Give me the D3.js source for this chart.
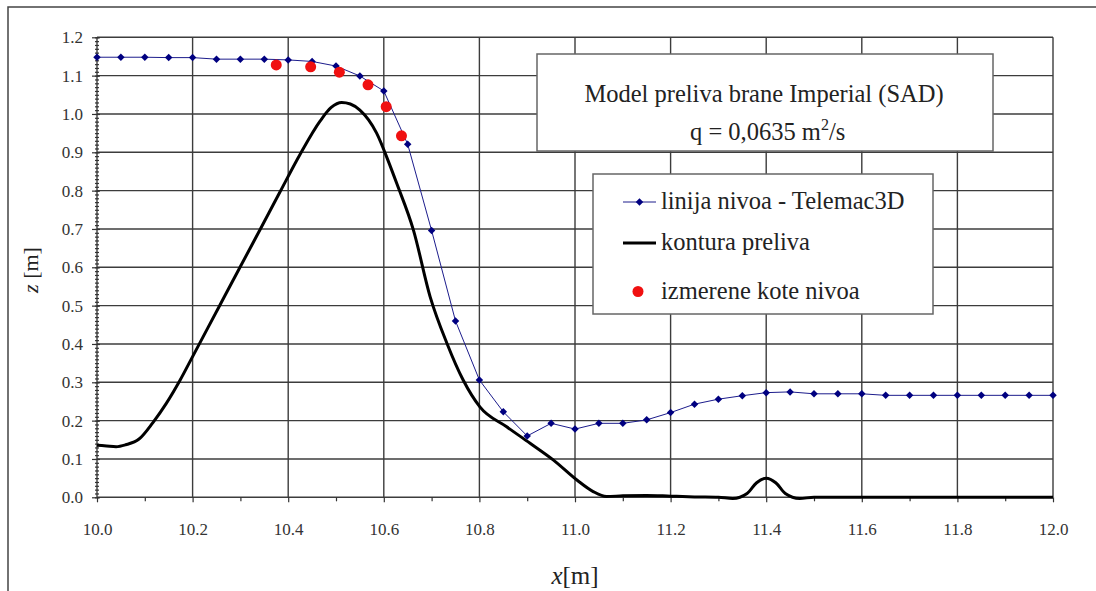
<!DOCTYPE html>
<html>
<head>
<meta charset="utf-8">
<script src="https://cdn.jsdelivr.net/npm/d3@7"></script>
<style>
  body { margin: 0; background: #fff; }
</style>
</head>
<body>
<div class="chart"></div>
<script>
// linija nivoa - Telemac3D
var levelX = [10.0, 10.05, 10.1, 10.15, 10.2, 10.25, 10.3, 10.35, 10.4, 10.45, 10.5, 10.55, 10.6, 10.65, 10.7, 10.75,
  10.8, 10.85, 10.9, 10.95, 11.0, 11.05, 11.1, 11.15, 11.2, 11.25, 11.3, 11.35, 11.4, 11.45, 11.5, 11.55, 11.6, 11.65,
  11.7, 11.75, 11.8, 11.85, 11.9, 11.95, 12.0];
var levelZ = [1.148, 1.148, 1.148, 1.147, 1.147, 1.143, 1.143, 1.143, 1.141, 1.137, 1.125, 1.099, 1.060, 0.921, 0.696, 0.460,
  0.306, 0.223, 0.160, 0.193, 0.178, 0.193, 0.193, 0.202, 0.221, 0.243, 0.256, 0.265, 0.273, 0.275, 0.270, 0.270, 0.270, 0.266,
  0.266, 0.266, 0.266, 0.266, 0.266, 0.266, 0.266];

// izmerene kote nivoa
var measuredX = [10.375, 10.447, 10.507, 10.567, 10.605, 10.637];
var measuredZ = [1.128, 1.123, 1.109, 1.076, 1.019, 0.943];

// kontura preliva
var contourX = [10.0, 10.02, 10.04, 10.06, 10.088, 10.117, 10.145, 10.174, 10.2, 10.257, 10.3, 10.341, 10.383, 10.425,
  10.467, 10.49, 10.512, 10.53, 10.55, 10.585, 10.61, 10.627, 10.662, 10.697, 10.732, 10.766, 10.801, 10.857, 10.906,
  10.955, 11.004, 11.038, 11.066, 11.1, 11.15, 11.2, 11.25, 11.3, 11.33, 11.36, 11.38, 11.4, 11.42, 11.44, 11.47, 11.5, 12.0];
var contourZ = [0.136, 0.134, 0.132, 0.137, 0.152, 0.195, 0.245, 0.306, 0.367, 0.501, 0.602, 0.698, 0.797, 0.895,
  0.982, 1.017, 1.030, 1.026, 1.010, 0.950, 0.875, 0.819, 0.697, 0.523, 0.402, 0.306, 0.236, 0.184, 0.141,
  0.097, 0.045, 0.015, 0.002, 0.004, 0.005, 0.003, 0.001, 0.0, -0.003, 0.010, 0.038, 0.050, 0.038, 0.010, -0.003, 0.0, 0.0];

var xTicks = [10.0, 10.2, 10.4, 10.6, 10.8, 11.0, 11.2, 11.4, 11.6, 11.8, 12.0];
var xMinor = [10.1, 10.3, 10.5, 10.7, 10.9, 11.1, 11.3, 11.5, 11.7, 11.9];
var yTicks = [0.0, 0.1, 0.2, 0.3, 0.4, 0.5, 0.6, 0.7, 0.8, 0.9, 1.0, 1.1, 1.2];

var FONT = "Liberation Serif";
var W = 1096, H = 591;
var svg = d3.select(".chart").append("svg")
  .attr("width", W)
  .attr("height", H)
  .attr("font-family", FONT);

// outer frame
svg.append("rect")
  .attr("x", 8).attr("y", 7)
  .attr("width", 1200).attr("height", 700)
  .attr("fill", "none")
  .attr("stroke", "#444")
  .attr("stroke-width", 1.5);

var x = d3.scaleLinear().domain([10, 12]).range([97, 1053]);
var y = d3.scaleLinear().domain([0, 1.2]).range([497.3, 37.3]);

// grid
var grid = svg.append("g").attr("stroke", "#3c3c3c").attr("stroke-width", 1.4);
grid.selectAll(".h").data(yTicks).enter().append("line")
  .attr("x1", x(10)).attr("x2", x(12))
  .attr("y1", function(d) { return y(d); })
  .attr("y2", function(d) { return y(d); });
grid.selectAll(".v").data(xTicks).enter().append("line")
  .attr("x1", function(d) { return x(d); })
  .attr("x2", function(d) { return x(d); })
  .attr("y1", y(0)).attr("y2", y(1.2));

// axes
var yMinor = d3.range(0, 121).map(function(i) { return i / 100; });
svg.append("g").attr("transform", "translate(" + (x(10) + 3) + ",0)")
  .call(d3.axisLeft(y).tickValues(yTicks).tickFormat(d3.format(".1f")).tickSize(8).tickPadding(9));
svg.append("g").attr("transform", "translate(" + (x(10) + 2) + ",0)")
  .call(d3.axisLeft(y).tickValues(yMinor).tickFormat("").tickSize(4));
svg.append("g").attr("transform", "translate(0," + y(0) + ")")
  .call(d3.axisBottom(x).tickValues(xTicks).tickFormat(d3.format(".1f")).tickSize(5).tickPadding(21));
svg.append("g").attr("transform", "translate(0," + y(0) + ")")
  .call(d3.axisBottom(x).tickValues(xMinor).tickFormat("").tickSize(4));
svg.selectAll(".domain").remove();
svg.selectAll("g").attr("font-family", FONT);
svg.selectAll(".tick line").attr("stroke", "#333").attr("stroke-width", 1.2);
svg.selectAll(".tick text").attr("font-family", FONT).attr("font-size", 17).attr("fill", "#333");

// contour
var contourData = contourX.map(function(d, i) { return [d, contourZ[i]]; });
svg.append("path")
  .attr("d", d3.line().x(function(d) { return x(d[0]); }).y(function(d) { return y(d[1]); })
    .curve(d3.curveMonotoneX)(contourData))
  .attr("fill", "none")
  .attr("stroke", "#000")
  .attr("stroke-width", 3);

// level line
var levelData = levelX.map(function(d, i) { return [d, levelZ[i]]; });
svg.append("path")
  .attr("d", d3.line().x(function(d) { return x(d[0]); }).y(function(d) { return y(d[1]); })(levelData))
  .attr("fill", "none")
  .attr("stroke", "#1c1c8c")
  .attr("stroke-width", 1);
var diamond = d3.symbol().type(d3.symbolSquare).size(28);
svg.selectAll(".lvl").data(levelData).enter().append("path")
  .attr("d", diamond)
  .attr("transform", function(d) { return "translate(" + x(d[0]) + "," + y(d[1]) + ") rotate(45)"; })
  .attr("fill", "#000080");

// measured
var measuredData = measuredX.map(function(d, i) { return [d, measuredZ[i]]; });
svg.selectAll(".meas").data(measuredData).enter().append("circle")
  .attr("cx", function(d) { return x(d[0]); })
  .attr("cy", function(d) { return y(d[1]); })
  .attr("r", 5.5)
  .attr("fill", "#f01010");

// title box
svg.append("rect")
  .attr("x", 537).attr("y", 54).attr("width", 456).attr("height", 97)
  .attr("fill", "#fff").attr("stroke", "#666").attr("stroke-width", 1.5);
svg.append("text").attr("x", 764).attr("y", 102).attr("text-anchor", "middle")
  .attr("font-family", FONT).attr("font-size", 24.5).attr("fill", "#222")
  .text("Model preliva brane Imperial (SAD)");
var t2 = svg.append("text").attr("x", 690).attr("y", 140)
  .attr("font-family", FONT).attr("font-size", 24.5).attr("fill", "#222");
t2.append("tspan").text("q = 0,0635 m");
t2.append("tspan").attr("dy", -10).attr("font-size", 16).text("2");
t2.append("tspan").attr("dy", 10).text("/s");

// legend
svg.append("rect")
  .attr("x", 593).attr("y", 174).attr("width", 340).attr("height", 140)
  .attr("fill", "#fff").attr("stroke", "#666").attr("stroke-width", 1.5);
svg.append("line").attr("x1", 623).attr("x2", 656).attr("y1", 202).attr("y2", 202)
  .attr("stroke", "#1c1c8c").attr("stroke-width", 1);
svg.append("path").attr("d", diamond).attr("transform", "translate(639.5,202) rotate(45)").attr("fill", "#000080");
svg.append("line").attr("x1", 623).attr("x2", 656).attr("y1", 243).attr("y2", 243)
  .attr("stroke", "#000").attr("stroke-width", 3);
svg.append("circle").attr("cx", 638).attr("cy", 291.5).attr("r", 5.5).attr("fill", "#f01010");
var legendText = ["linija nivoa - Telemac3D", "kontura preliva", "izmerene kote nivoa"];
var legendY = [209, 250, 299];
svg.selectAll(".lt").data(legendText).enter().append("text")
  .attr("x", 661).attr("y", function(d, i) { return legendY[i]; })
  .attr("font-family", FONT).attr("font-size", 24.5).attr("fill", "#222")
  .text(function(d) { return d; });

// axis titles
var xl = svg.append("text").attr("x", 575).attr("y", 584).attr("text-anchor", "middle")
  .attr("font-family", FONT).attr("font-size", 25).attr("fill", "#222");
xl.append("tspan").attr("font-style", "italic").text("x");
xl.append("tspan").text("[m]");
var yl = svg.append("text").attr("transform", "translate(38,270) rotate(-90)").attr("text-anchor", "middle")
  .attr("font-family", FONT).attr("font-size", 22).attr("fill", "#222");
yl.append("tspan").attr("font-style", "italic").text("z");
yl.append("tspan").text(" [m]");
</script>
</body>
</html>
